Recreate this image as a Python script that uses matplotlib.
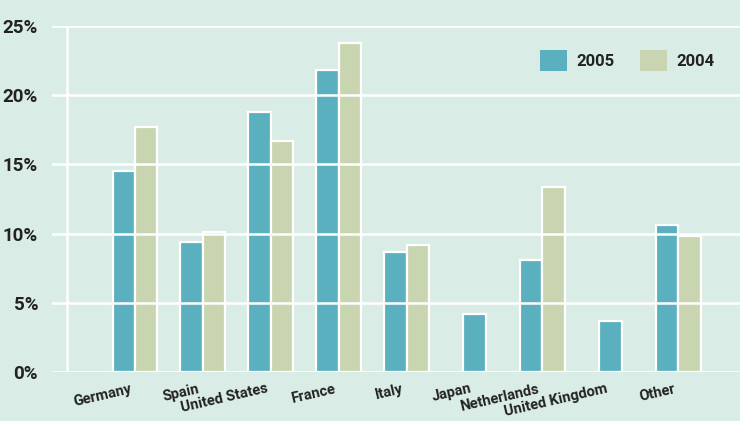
import numpy as np
import matplotlib
matplotlib.use('Agg')
import matplotlib.pyplot as plt
import matplotlib.transforms as mtransforms
from matplotlib.patches import Patch

# data (percent)
countries = ['Germany', 'Spain', 'United States', 'France', 'Italy',
             'Japan', 'Netherlands', 'United Kingdom', 'Other']
share_2005 = [14.5, 9.4, 18.8, 21.8, 8.7, 4.2, 8.1, 3.7, 10.6]
share_2004 = [17.7, 10.1, 16.7, 23.8, 9.2, None, 13.4, None, 9.8]
yticks = [0, 5, 10, 15, 20, 25]

teal = '#5ab0be'
sage = '#c8d5b0'
bg = '#d9ece5'
dark = '#222222'

plt.rcParams['font.family'] = ['Roboto', 'DejaVu Sans']

fig = plt.figure(figsize=(7.40, 4.21), dpi=100)
fig.patch.set_facecolor(bg)
ax = fig.add_axes([52 / 740, 49 / 421, 688 / 740, 346 / 421])
ax.set_facecolor(bg)

w = 0.33
for i, (a, b) in enumerate(zip(share_2005, share_2004)):
    if b is None:
        ax.bar(i, a, width=w, color=teal, edgecolor='white', linewidth=1.6, zorder=2)
    else:
        ax.bar(i - w / 2, a, width=w, color=teal, edgecolor='white', linewidth=1.6, zorder=2)
        ax.bar(i + w / 2, b, width=w, color=sage, edgecolor='white', linewidth=1.6, zorder=2)

# white grid lines drawn over the bars
for t in yticks:
    ax.axhline(t, color='white', lw=1.8, zorder=3)
ax.plot([-1, -1], [0, 25], color='white', lw=1.8, zorder=3)

ax.set_xlim(-1.222, 8.91)
ax.set_ylim(0, 25)
for s in ax.spines.values():
    s.set_visible(False)

ax.set_yticks(yticks)
ax.set_yticklabels([f'{t}%' for t in yticks], fontsize=13.5, fontweight='bold', color=dark)
ax.tick_params(axis='y', length=0, pad=10)

ax.set_xticks(range(len(countries)))
ax.set_xticklabels(countries, rotation=13, ha='right', va='top', rotation_mode='anchor',
                   fontsize=10.5, fontweight='bold', color=dark)
ax.tick_params(axis='x', length=0, pad=7)
shift = mtransforms.ScaledTranslation(-5 / 100, 0, fig.dpi_scale_trans)
for lab in ax.get_xticklabels():
    lab.set_transform(lab.get_transform() + shift)

handles = [Patch(facecolor=teal, label='2005'), Patch(facecolor=sage, label='2004')]
ax.legend(handles=handles, loc='upper right', bbox_to_anchor=(0.985, 0.975), ncol=2,
          frameon=False, prop={'weight': 'bold', 'size': 12}, handlelength=1.6,
          handleheight=1.6, handletextpad=0.6, columnspacing=1.5)
for txt in ax.get_legend().get_texts():
    txt.set_color(dark)

plt.savefig('out.png', dpi=100, facecolor=bg)
